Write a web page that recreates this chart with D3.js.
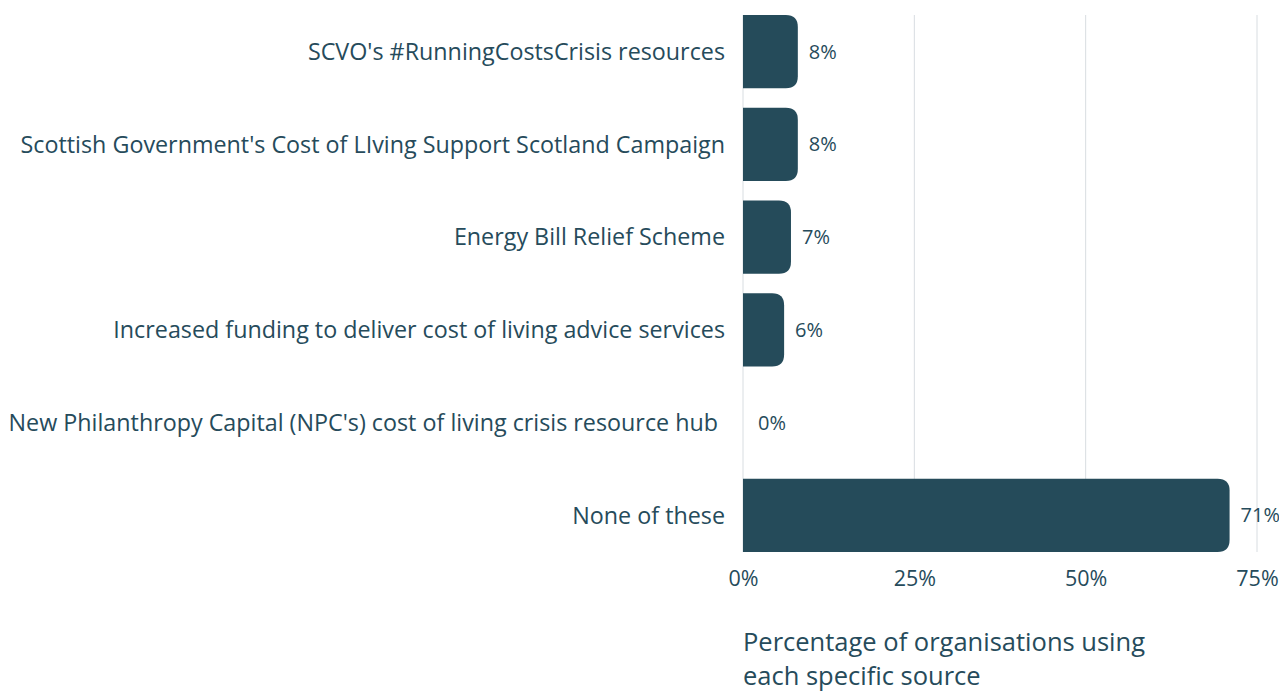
<!DOCTYPE html>
<html>
<head>
<meta charset="utf-8">
<style>
	body { margin: 0; background: #fff; }
	text { font-family: "Open Sans", "Noto Sans", sans-serif; fill: #264b5b; }
</style>
</head>
<body>
<script src="https://cdn.jsdelivr.net/npm/d3@7"></script>
<script>

// Data
var categories = [
	"SCVO's #RunningCostsCrisis resources",
	"Scottish Government's Cost of LIving Support Scotland Campaign",
	"Energy Bill Relief Scheme",
	"Increased funding to deliver cost of living advice services",
	"New Philanthropy Capital (NPC's) cost of living crisis resource hub",
	"None of these"
];
var values = [8, 8, 7, 6, 0, 71];
var tickValues = [0, 25, 50, 75];
var axisTitle = ["Percentage of organisations using", "each specific source"];

var W = 1279, H = 691;
var margin = {top: 15, left: 743, right: 22, bottom: 139};
var width = W - margin.left - margin.right,
	height = H - margin.top - margin.bottom;

var svg = d3.select("body").append("svg")
	.attr("width", W)
	.attr("height", H);

var g = svg.append("g")
	.attr("transform", "translate(" + margin.left + "," + margin.top + ")");

var x = d3.scaleLinear().domain([0, 75]).range([0, width]);
var y = d3.scaleBand().domain(categories).range([0, height])
	.paddingInner(0.21).paddingOuter(0);

// gridlines
g.selectAll(".grid").data(tickValues).enter().append("line")
	.attr("x1", function(d) { return x(d); })
	.attr("x2", function(d) { return x(d); })
	.attr("y1", 0)
	.attr("y2", height)
	.attr("stroke", "#d8dde1")
	.attr("stroke-width", 1);

// bars, rounded on the right end only
function barPath(d, i) {
	var x0 = 0, x1 = x(d), y0 = y(categories[i]), h = y.bandwidth();
	var r = Math.min(12, x1 / 2);
	if (x1 <= 0) return "";
	return "M" + x0 + "," + y0 +
		"H" + (x1 - r) +
		"Q" + x1 + "," + y0 + " " + x1 + "," + (y0 + r) +
		"V" + (y0 + h - r) +
		"Q" + x1 + "," + (y0 + h) + " " + (x1 - r) + "," + (y0 + h) +
		"H" + x0 + "Z";
}

g.selectAll(".bar").data(values).enter().append("path")
	.attr("d", barPath)
	.attr("fill", "#254b5a");

// value labels
g.selectAll(".val").data(values).enter().append("text")
	.attr("x", function(d) { return x(d) + (d === 0 ? 15 : 11); })
	.attr("y", function(d, i) { return y(categories[i]) + y.bandwidth() / 2; })
	.attr("dy", "0.35em")
	.style("font-size", "20px")
	.text(function(d) { return d + "%"; });

// category labels
g.selectAll(".cat").data(categories).enter().append("text")
	.attr("x", function(d, i) { return values[i] === 0 ? -25 : -18; })
	.attr("y", function(d) { return y(d) + y.bandwidth() / 2; })
	.attr("dy", "0.35em")
	.attr("text-anchor", "end")
	.style("font-size", "23.3px")
	.text(function(d) { return d; });

// x axis
var xAxis = g.append("g")
	.attr("transform", "translate(0," + height + ")")
	.call(d3.axisBottom(x).tickValues(tickValues)
		.tickFormat(function(d) { return d + "%"; })
		.tickSize(0).tickPadding(19));
xAxis.select(".domain").remove();
xAxis.selectAll("text").style("font-size", "21.5px").attr("fill", "#264b5b")
	.style("font-family", "'Open Sans', 'Noto Sans', sans-serif");

// axis title
g.append("text")
	.attr("x", 0)
	.attr("y", height + 99)
	.style("font-size", "25.5px")
	.selectAll("tspan").data(axisTitle).enter().append("tspan")
	.attr("x", 0)
	.attr("dy", function(d, i) { return i === 0 ? 0 : 34; })
	.text(function(d) { return d; });

</script>
</body>
</html>
